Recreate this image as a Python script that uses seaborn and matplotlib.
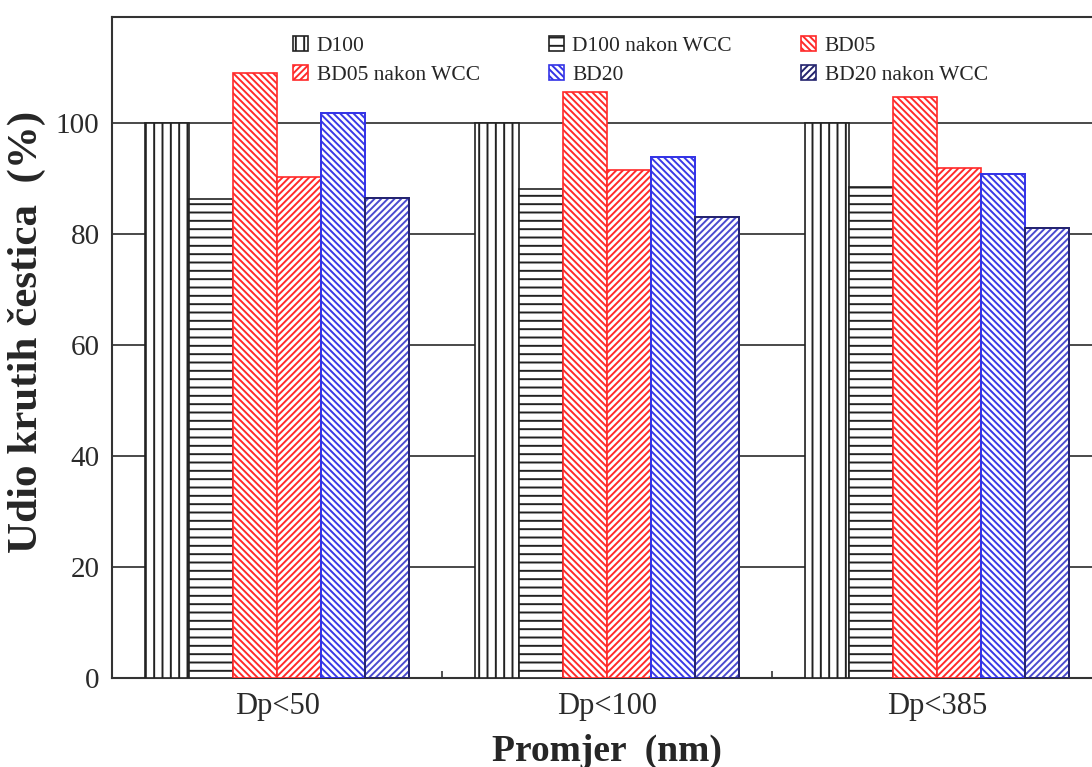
import matplotlib
matplotlib.use('Agg')
import matplotlib.pyplot as plt
from matplotlib.patches import Rectangle
import seaborn as sns
import pandas as pd

# values
categories = ['Dp<50', 'Dp<100', 'Dp<385']
series = ['D100', 'D100 nakon WCC', 'BD05', 'BD05 nakon WCC', 'BD20', 'BD20 nakon WCC']
d100 = [100, 100, 100]
d100_wcc = [86.2, 88.1, 88.5]
bd05 = [109.0, 105.6, 104.7]
bd05_wcc = [90.2, 91.5, 91.9]
bd20 = [101.7, 93.9, 90.8]
bd20_wcc = [86.5, 83.0, 81.0]

hatch_colors = ['#222222', '#222222', '#ff2a2a', '#ff2a2a', '#3a3ae6', '#4a4ad0']
outline_colors = ['#222222', '#222222', '#ff2a2a', '#ff2a2a', '#3434e6', '#24246e']
hatches = ['||', '--', '\\\\\\\\\\', '/////', '\\\\\\\\\\', '/////']

rows = []
for name, vals in zip(series, [d100, d100_wcc, bd05, bd05_wcc, bd20, bd20_wcc]):
    for cat, v in zip(categories, vals):
        rows.append({'Promjer': cat, 'Serija': name, 'Udio': v})
df = pd.DataFrame(rows)

sns.set_style('white')
plt.rcParams['font.family'] = ['Liberation Serif', 'DejaVu Serif']
plt.rcParams['hatch.linewidth'] = 1.4

fig = plt.figure(figsize=(10.92, 7.67), dpi=100)
ax = fig.add_axes([112 / 1092, 89 / 767, 990 / 1092, 660.7 / 767])

sns.barplot(data=df, x='Promjer', y='Udio', hue='Serija', hue_order=series,
            order=categories, palette=['white'] * 6, width=0.8, gap=0,
            saturation=1, errorbar=None, ax=ax, zorder=3)

for cont, hc, oc, h in zip(ax.containers, hatch_colors, outline_colors, hatches):
    for bar in cont:
        bar.set_facecolor('white')
        bar.set_edgecolor(hc)
        bar.set_hatch(h)
        bar.set_linewidth(1.2)
        if oc != hc:
            ax.add_patch(Rectangle(bar.get_xy(), bar.get_width(), bar.get_height(),
                                   fill=False, edgecolor=oc, linewidth=1.4, zorder=4))

ax.set_xlim(-0.5, 2.5)
ax.set_ylim(0, 119)
ax.set_yticks([0, 20, 40, 60, 80, 100])
ax.yaxis.grid(True, color='#3a3a3a', linewidth=1.3, zorder=0)
ax.set_axisbelow(True)
ax.set_xticks([0.5, 1.5], minor=True)
ax.tick_params(axis='x', which='minor', direction='in', length=5, width=1.2, color='#333333', bottom=True)
ax.tick_params(axis='x', which='major', length=0, pad=10, labelsize=22, labelcolor='#2a2a2a')
ax.tick_params(axis='y', length=0, pad=9, labelsize=21, labelcolor='#2a2a2a')
for sp in ax.spines.values():
    sp.set_color('#333333')
    sp.set_linewidth(1.5)

ax.set_xlabel('Promjer  (nm)', fontsize=27, fontweight='bold', labelpad=9)
ax.set_ylabel('Udio krutih čestica  (%)', fontsize=31, fontweight='bold')
ax.yaxis.set_label_coords(-0.067, 0.524)

handles, labels = ax.get_legend_handles_labels()
for hd, hc, oc, h in zip(handles, hatch_colors, outline_colors, hatches):
    hd.set_facecolor('white')
    hd.set_edgecolor(oc)
    hd.set_hatch(h)
    hd.set_linewidth(1.2)
order = [0, 3, 1, 4, 2, 5]
ax.legend([handles[i] for i in order], [labels[i] for i in order], ncol=3,
          loc='upper left', bbox_to_anchor=(293 / 1092, 1 - 36 / 767),
          bbox_transform=fig.transFigure, frameon=False, fontsize=15.5,
          handlelength=0.7, handleheight=0.7, handletextpad=0.4,
          columnspacing=3.2, labelspacing=0.4, borderpad=0, borderaxespad=0)

fig.savefig('out.png', dpi=100)
